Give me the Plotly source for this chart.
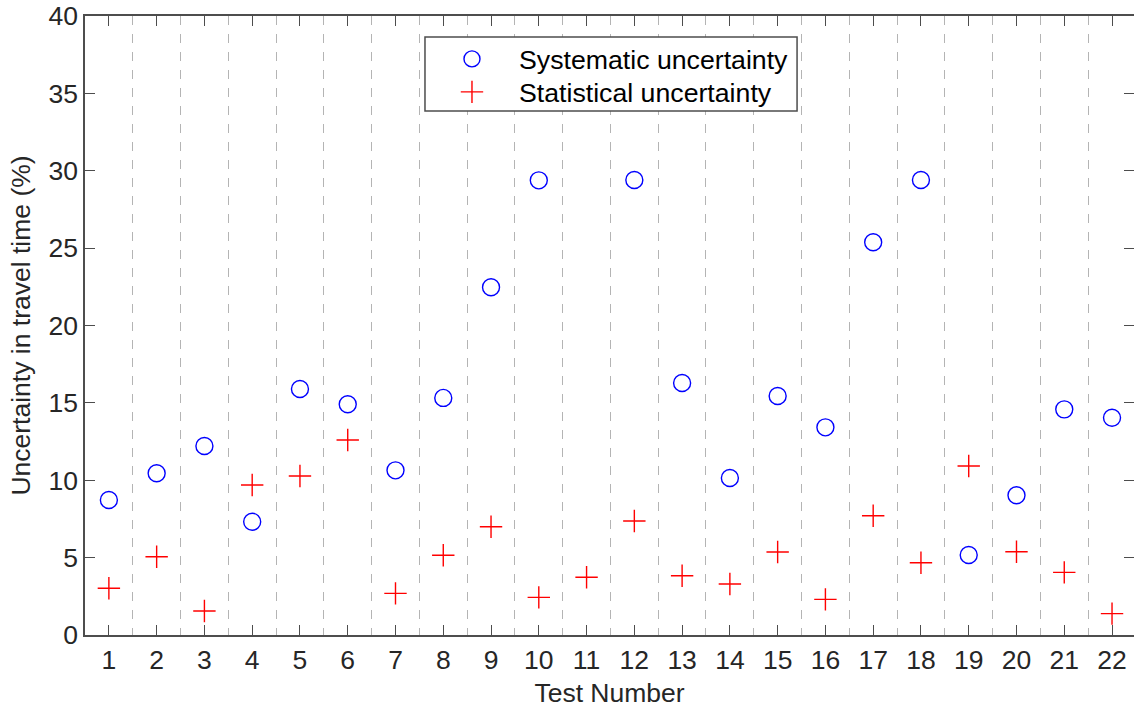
import plotly.graph_objects as go

# Test numbers and uncertainty values (%)
tests = list(range(1, 23))
systematic = [8.72, 10.45, 12.21, 7.32, 15.90, 14.91, 10.64, 15.32, 22.47, 29.38,
              None, 29.40, 16.28, 10.15, 15.44, 13.42, 25.38, 29.40, 5.17, 9.03,
              14.58, 14.04]
statistical = [3.02, 5.06, 1.55, 9.69, 10.27, 12.60, 2.69, 5.15, 7.00, 2.43,
               3.73, 7.37, 3.83, 3.30, 5.36, 2.30, 7.71, 4.67, 10.92, 5.38,
               4.05, 1.38]
y_ticks = list(range(0, 41, 5))

FONT = "Liberation Sans, Arial, Helvetica, sans-serif"
TEXT_COLOR = "#262626"
LINE_COLOR = "#4d4d4d"
FS = 26.5

fig = go.Figure()
fig.add_trace(go.Scatter(
    x=tests, y=systematic, mode="markers", name="Systematic uncertainty",
    legend="legend",
    marker=dict(symbol="circle-open", size=17, color="#0000ff",
                line=dict(width=1.4, color="#0000ff")),
))
fig.add_trace(go.Scatter(
    x=tests, y=statistical, mode="markers", name="Statistical uncertainty",
    legend="legend2",
    marker=dict(symbol="cross-thin-open", size=16, color="#ff0000",
                line=dict(width=1.4, color="#ff0000")),
))

# One borderless legend per row, framed by a shared box
legend_style = dict(
    xanchor="left", yanchor="middle", bgcolor="rgba(0,0,0,0)", borderwidth=0,
    font=dict(family=FONT, size=26.7, color="black"), itemwidth=84,
)
fig.update_layout(
    width=1134, height=711,
    margin=dict(l=85, r=0, t=16, b=76),
    plot_bgcolor="white", paper_bgcolor="white",
    font=dict(family=FONT, size=FS, color=TEXT_COLOR),
    showlegend=True,
    legend=dict(x=0.3241, y=0.9305, **legend_style),
    legend2=dict(x=0.3241, y=0.8772, **legend_style),
    shapes=[dict(type="rect", xref="paper", yref="paper",
                 x0=0.3241, x1=0.6788, y0=0.8465, y1=0.966,
                 fillcolor="white", line=dict(color=LINE_COLOR, width=1.5),
                 layer="above")],
)

fig.update_xaxes(
    range=[0.5, 22.46], tickmode="array", tickvals=tests,
    ticktext=[str(t) for t in tests],
    ticks="inside", ticklen=10, tickwidth=1.3, tickcolor=LINE_COLOR,
    showline=True, linecolor=LINE_COLOR, linewidth=1.5, mirror="ticks",
    showgrid=False, zeroline=False,
    minor=dict(tick0=0.5, dtick=1, showgrid=True, gridcolor="#b4b4b4",
               griddash="dash", gridwidth=1, ticks=""),
    title=dict(text="Test Number", font=dict(size=FS), standoff=10),
    tickfont=dict(size=FS),
)
fig.update_yaxes(
    range=[0, 40], tickmode="array", tickvals=y_ticks,
    ticks="inside", ticklen=10, tickwidth=1.3, tickcolor=LINE_COLOR,
    showline=True, linecolor=LINE_COLOR, linewidth=1.5, mirror=False,
    showgrid=False, zeroline=False,
    title=dict(text="Uncertainty in travel time (%)", font=dict(size=FS), standoff=10),
    tickfont=dict(size=FS),
)

# Right-hand inward ticks without a visible border line
fig.update_layout(yaxis2=dict(
    overlaying="y", side="right", range=[0, 40], tickmode="array",
    tickvals=y_ticks, showticklabels=False, ticks="inside", ticklen=10,
    tickwidth=1.3, tickcolor=LINE_COLOR, showline=False, showgrid=False,
    zeroline=False,
))
fig.add_trace(go.Scatter(x=[None], y=[None], yaxis="y2", showlegend=False,
                         hoverinfo="skip"))

fig.write_html("out.html")
